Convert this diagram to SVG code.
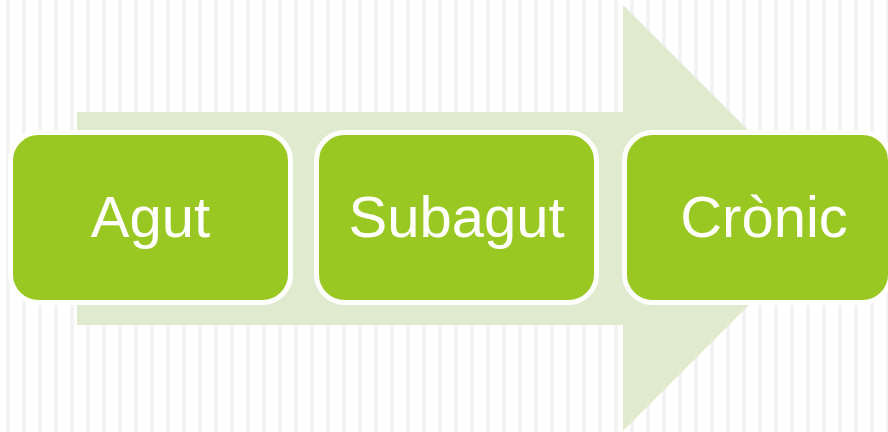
<svg xmlns="http://www.w3.org/2000/svg" width="888" height="432" viewBox="0 0 888 432">
  <defs>
    <pattern id="stripes" x="0" y="0" width="16" height="16" patternUnits="userSpaceOnUse">
      <rect x="6" y="0" width="4" height="16" fill="#f3f3f3"/>
    </pattern>
    <style>
      .box { fill: #9ac823; stroke: #ffffff; stroke-width: 5; }
      .label { font-family: "Liberation Sans", Arial, sans-serif; font-size: 58px; fill: #ffffff; text-anchor: middle; }
    </style>
  </defs>
  <rect x="0" y="0" width="888" height="432" fill="#ffffff"/>
  <rect x="0" y="0" width="888" height="432" fill="url(#stripes)"/>
  <g id="arrow">
    <polygon points="77,112 623,112 623,5 836,218 623,431 623,325 77,325" fill="#dfeacf"/>
  </g>
  <g id="node-agut">
    <rect class="box" x="10.5" y="132.5" width="280" height="170" rx="28" ry="28"/>
    <text class="label" x="150.5" y="237">Agut</text>
  </g>
  <g id="node-subagut">
    <rect class="box" x="316.5" y="132.5" width="280" height="170" rx="28" ry="28"/>
    <text class="label" x="456.5" y="237">Subagut</text>
  </g>
  <g id="node-cronic">
    <rect class="box" x="624.5" y="132.5" width="266" height="170" rx="28" ry="28"/>
    <text class="label" x="764" y="237">Crònic</text>
  </g>
  <g id="connectors"></g>
</svg>
